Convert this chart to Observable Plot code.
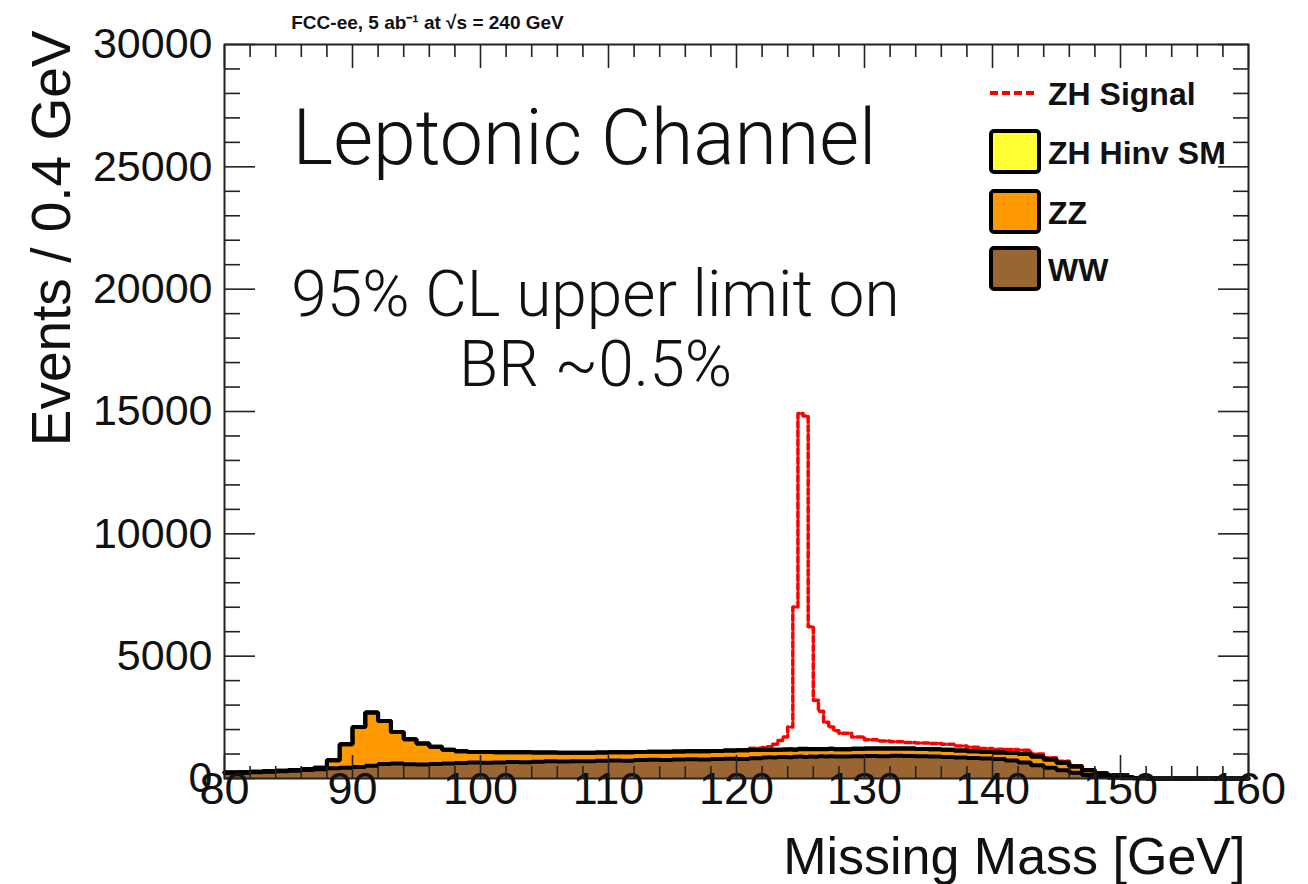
<!DOCTYPE html>
<html><head><meta charset="utf-8">
<script src="https://cdn.jsdelivr.net/npm/d3@7"></script>
<script src="https://cdn.jsdelivr.net/npm/@observablehq/plot@0.6"></script>
<style>
html,body{margin:0;padding:0;background:#fff;}
#wrap{position:relative;width:1308px;height:884px;}
#legend{position:absolute;left:0;top:0;pointer-events:none;}
</style></head><body><div id="wrap"></div>
<script>
// Bin edges (GeV): 1 GeV bins, 0.4 GeV bins around the Higgs peak, 1 GeV bins again
const massEdges = [80,81,82,83,84,85,86,87,88,89,90,91,92,93,94,95,96,97,98,99,
  100,101,102,103,104,105,106,107,108,109,110,111,112,113,114,115,116,117,118,119,120,121,
  122,122.4,122.8,123.2,123.6,124,124.4,124.8,125.2,125.6,126,126.4,126.8,127.2,127.6,
  128,129,130,131,132,133,134,135,136,137,138,139,140,141,142,143,144,145,146,147,148,149,
  150,151,152,153,154,155,156,157,158,159,160];

const wwEvents = [230,240,260,280,300,320,350,380,420,440,470,520,590,610,580,570,590,610,630,650,
  640,650,670,660,680,700,690,710,700,730,
  740,730,760,770,760,780,790,780,800,810,800,830,
  860,870,860,880,880,870,890,900,880,900,890,910,900,910,900,
  900,910,920,910,930,920,910,900,880,860,840,820,
  800,740,650,540,440,340,240,140,70,30,10,0,
  0,0,0,0,0,0,0,0];

const zzEvents = [20,20,20,20,20,30,40,60,330,960,1630,2180,1760,1290,1020,860,710,570,480,430,
  440,420,400,410,380,360,360,340,350,330,
  330,340,320,320,330,320,320,330,320,330,350,330,
  310,290,320,300,310,320,290,300,320,300,310,290,300,310,300,
  300,310,310,320,300,310,300,300,290,280,270,260,
  260,300,350,360,340,300,250,200,140,90,45,20,
  5,0,0,0,0,0,0,0];

const hinvSMEvents = [0,0,0,0,0,0,0,0,0,0,0,0,0,0,0,0,0,0,0,0,
  0,0,0,0,0,0,0,0,0,0,
  0,0,0,0,0,0,0,0,0,0,0,0,
  0,0,0,0,0,1,6,14,14,5,2,1,1,1,0,
  0,0,0,0,0,0,0,0,0,0,0,0,
  0,0,0,0,0,0,0,0,0,0,0,0,
  0,0,0,0,0,0,0,0];

const zhSignalEvents = [0,0,0,0,0,0,0,0,0,0,0,0,0,0,0,0,0,0,0,0,
  0,0,0,0,0,0,0,0,0,0,
  0,0,0,0,0,0,0,0,0,0,0,80,
  100,140,220,370,510,910,5820,13700,13600,5000,2000,1550,1100,880,750,
  650,480,350,300,270,240,240,230,230,190,170,150,
  140,150,150,100,70,60,30,20,10,5,5,0,
  0,0,0,0,0,0,0,0];

const xMajorTicks = [80,90,100,110,120,130,140,150,160];
const xMinorTicks = [82,84,86,88,92,94,96,98,102,104,106,108,112,114,116,118,122,124,126,128,
  132,134,136,138,142,144,146,148,152,154,156,158];
const yMajorTicks = [0,5000,10000,15000,20000,25000,30000];
const yMinorTicks = [1000,2000,3000,4000,6000,7000,8000,9000,11000,12000,13000,14000,
  16000,17000,18000,19000,21000,22000,23000,24000,26000,27000,28000,29000];

const legendLabels = ["ZH Signal","ZH Hinv SM","ZZ","WW"];
const legendColors = ["#ff0000","#ffff33","#ff9900","#996633"];

const n = wwEvents.length;
const pts = massEdges.map((m, i) => {
  const j = Math.min(i, n - 1);
  const ww = wwEvents[j], zz = zzEvents[j], hv = hinvSMEvents[j], sg = zhSignalEvents[j];
  return {m, ww, wwzz: ww + zz, bkg: ww + zz + hv, total: ww + zz + hv + sg};
});

const tickColor = "#222";
const lineOpts = {x: "m", curve: "step-after", stroke: "#000", strokeWidth: 4, strokeLinejoin: "miter"};

const chart = Plot.plot({
  width: 1308, height: 884,
  marginLeft: 224, marginRight: 60, marginTop: 44, marginBottom: 106,
  x: {domain: [80, 160]},
  y: {domain: [0, 30000]},
  style: {fontFamily: "'Liberation Sans', Arial, sans-serif", fontSize: "43px", color: "#111", background: "#fff"},
  marks: [
    Plot.line(pts, {x: "m", y: "total", curve: "step-after", stroke: "#ff0000", strokeWidth: 3.5, strokeDasharray: "6,3"}),
    Plot.areaY(pts, {x: "m", y1: 0, y2: "ww", curve: "step-after", fill: legendColors[3]}),
    Plot.areaY(pts, {x: "m", y1: "ww", y2: "wwzz", curve: "step-after", fill: legendColors[2]}),
    Plot.areaY(pts, {x: "m", y1: "wwzz", y2: "bkg", curve: "step-after", fill: legendColors[1]}),
    Plot.line(pts, {...lineOpts, y: "bkg"}),
    Plot.line(pts, {...lineOpts, y: "wwzz"}),
    Plot.line(pts, {...lineOpts, y: "ww"}),
    Plot.frame({stroke: tickColor, strokeWidth: 2}),
    // y axis labels & ticks
    Plot.axisY({anchor: "left", ticks: yMajorTicks, tickSize: 0, tickPadding: 12, tickFormat: "d", label: null, fontSize: 43}),
    Plot.axisY({anchor: "left", ticks: yMajorTicks, tickSize: -31, fill: "none", label: null, stroke: tickColor, strokeWidth: 1.6}),
    Plot.axisY({anchor: "left", ticks: yMinorTicks, tickSize: -16, fill: "none", label: null, stroke: tickColor, strokeWidth: 1.6}),
    Plot.axisY({anchor: "right", ticks: yMajorTicks, tickSize: -31, fill: "none", label: null, stroke: tickColor, strokeWidth: 1.6}),
    Plot.axisY({anchor: "right", ticks: yMinorTicks, tickSize: -16, fill: "none", label: null, stroke: tickColor, strokeWidth: 1.6}),
    // x axis labels & ticks
    Plot.axisX({anchor: "bottom", ticks: xMajorTicks, tickSize: 0, tickPadding: -6, tickFormat: "d", label: null, fontSize: 45}),
    Plot.axisX({anchor: "bottom", ticks: xMajorTicks, tickSize: -23, fill: "none", label: null, stroke: tickColor, strokeWidth: 1.6}),
    Plot.axisX({anchor: "bottom", ticks: xMinorTicks, tickSize: -12, fill: "none", label: null, stroke: tickColor, strokeWidth: 1.6}),
    Plot.axisX({anchor: "top", ticks: xMajorTicks, tickSize: -23, fill: "none", label: null, stroke: tickColor, strokeWidth: 1.6}),
    Plot.axisX({anchor: "top", ticks: xMinorTicks, tickSize: -12, fill: "none", label: null, stroke: tickColor, strokeWidth: 1.6}),
    // titles
    Plot.text(["Events / 0.4 GeV"], {text: d => d, frameAnchor: "top-left", rotate: -90, textAnchor: "end", lineAnchor: "middle",
      dx: -172, dy: -14, fontSize: 55, fill: "#111"}),
    Plot.text(["Missing Mass [GeV]"], {text: d => d, frameAnchor: "bottom-right", textAnchor: "end", lineAnchor: "middle",
      dx: -3, dy: 79, fontSize: 52, fill: "#111"}),
    Plot.text(["FCC-ee, 5 ab\u207B\u00B9 at \u221As = 240 GeV"], {text: d => d, frameAnchor: "top-left", textAnchor: "middle", lineAnchor: "middle",
      dx: 203, dy: -22, fontSize: 19, fontWeight: "bold", fill: "#111"}),
    // annotations
    Plot.text(["Leptonic Channel"], {text: d => d, frameAnchor: "top-left", textAnchor: "middle", lineAnchor: "middle",
      dx: 360, dy: 95, fontSize: 77, fontWeight: 300, fontFamily: "Roboto, Lato, sans-serif", fill: "#111"}),
    Plot.text(["95% CL upper limit on"], {text: d => d, frameAnchor: "top-left", textAnchor: "middle", lineAnchor: "middle",
      dx: 371, dy: 251, fontSize: 64, fontWeight: 300, fontFamily: "Roboto, Lato, sans-serif", fill: "#111"}),
    Plot.text(["BR ~0.5%"], {text: d => d, frameAnchor: "top-left", textAnchor: "middle", lineAnchor: "middle",
      dx: 371, dy: 321, fontSize: 64, fontWeight: 300, fontFamily: "Roboto, Lato, sans-serif", fill: "#111"})
  ]
});
document.getElementById("wrap").appendChild(chart);

// Legend (inside the frame, top right)
const lg = d3.select("#wrap").append("svg").attr("id", "legend").attr("width", 1308).attr("height", 884);
const rowsY = [93, 152, 212, 269];
const fontCss = "'Liberation Sans', Arial, sans-serif";
lg.append("line").attr("x1", 990).attr("x2", 1036).attr("y1", rowsY[0]).attr("y2", rowsY[0])
  .attr("stroke", legendColors[0]).attr("stroke-width", 4).attr("stroke-dasharray", "8,4");
for (let k = 1; k < 4; k++) {
  lg.append("rect").attr("x", 991).attr("y", rowsY[k] - 21).attr("width", 48).attr("height", 41)
    .attr("rx", 3).attr("fill", legendColors[k]).attr("stroke", "#000").attr("stroke-width", 4);
}
legendLabels.forEach((t, k) => {
  lg.append("text").attr("x", 1048).attr("y", rowsY[k]).attr("dy", "0.36em")
    .attr("font-family", fontCss).attr("font-weight", "bold").attr("font-size", 32).attr("fill", "#111").text(t);
});
</script></body></html>
